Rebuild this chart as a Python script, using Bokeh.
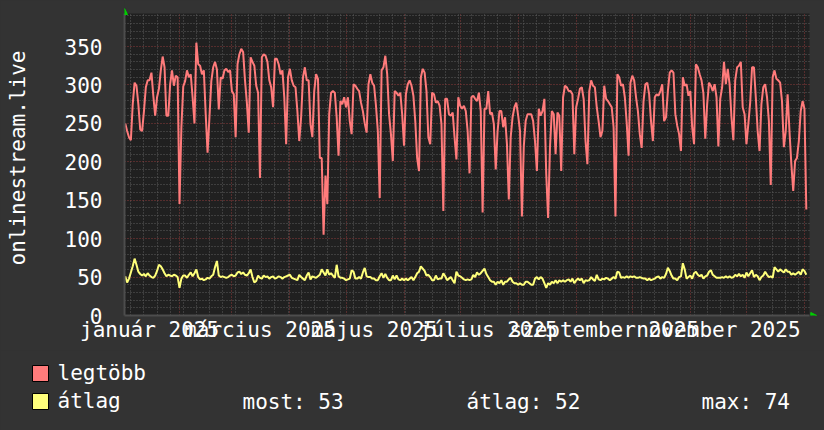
from bokeh.plotting import figure
from bokeh.models import (Range1d, FixedTicker, Label, Legend, LegendItem, Arrow, NormalHead,
                          ColumnDataSource, BoxAnnotation)
from bokeh.embed import file_html
from bokeh.resources import INLINE

FONT = "DejaVu Sans Mono"
TXT = "#ffffff"
BG = "#333333"
NAN = float("nan")

# ---------------- data (day index: 0 = 2025-01-01) ----------------
y_title = "onlinestream.live"
month_labels = ["január 2025", "március 2025", "május 2025", "július 2025",
                "szeptember 2025", "november 2025"]
label_days = [15, 74, 135, 196, 258, 319]          # labels sit mid-month
month_starts = [0, 31, 59, 90, 120, 151, 181, 212, 243, 273, 304, 334, 365]
week_starts = [d for d in range(5, 367, 7) if d not in month_starts]   # Mondays
y_ticks = [0, 50, 100, 150, 200, 250, 300, 350]
y_minor = [v for v in range(10, 400, 10) if v % 50]
first_day = 2
x_lo, x_hi = 1.6, 367.7        # shown period (days)
y_lo, y_hi = 0, 393            # shown value range

legtobb = [
    250, 240, 232, 228, 275, 303, 299, 275, 242, 240, 266, 297, 306, 306, 316, 286, 260, 284, 295, 319,
    337, 323, 260, 260, 301, 319, 299, 312, 310, 145, 245, 298, 305, 319, 310, 314, 284, 250, 355, 327,
    325, 314, 319, 262, 212, 258, 305, 323, 330, 320, 268, 310, 308, 319, 321, 317, 319, 292, 288, 232,
    327, 340,
    347, 343, 306, 277, 238, 336, 330, 325, 299, 290, 179, 336, 340, 338, 330, 306, 297, 271, 334, 334,
    327, 314, 319, 284, 223, 310, 321, 306, 299, 297, 266, 227, 258, 310, 323, 306, 306, 249, 232, 292,
    314, 308, 205, 205, 105, 182, 145, 262, 290, 292, 290, 258, 208, 279, 275, 284, 271, 284, 253, 236,
    301,
    299, 295, 292, 277, 266, 250, 238, 301, 314, 303, 299, 273, 240, 153, 319, 323, 338, 314, 262, 236,
    201, 292, 290, 286, 290, 262, 221, 288, 301, 306, 299, 286, 253, 205, 188, 310, 321, 316, 292, 232,
    223, 290, 288, 277, 279, 273, 249, 136, 282, 282, 262, 260, 264, 232, 203, 284, 273, 269, 273, 266,
    240,
    185, 284, 286, 282, 279, 290, 266, 134, 269, 269, 292, 262, 264, 249, 190, 240, 266, 266, 245, 258,
    223, 151, 232, 258, 271, 277, 260, 240, 129, 220, 253, 262, 262, 262, 253, 227, 188, 269, 260, 266,
    282, 184, 127, 219, 266, 262, 210, 264, 260, 188, 284, 299, 297, 292, 292, 288, 210, 271, 282, 295,
    297,
    282, 227, 197, 292, 306, 299, 297, 271, 253, 232, 240, 299, 282, 279, 275, 271, 245, 129, 314, 310,
    299, 301, 284, 251, 208, 303, 312, 306, 284, 266, 236, 218, 279, 301, 303, 288, 253, 227, 284, 288,
    286, 292, 301, 253, 258, 292, 316, 319, 316, 262, 247, 236, 214, 310, 299, 301, 286, 292, 245, 223,
    327,
    323, 314, 306, 289, 230, 275, 303, 299, 292, 301, 284, 220, 282, 297, 330, 301, 321, 301, 258, 228,
    306, 323, 325, 330, 271, 262, 223, 249, 277, 323, 323, 284, 240, 214, 275, 297, 301, 284, 253, 170,
    310, 319, 308, 306, 303, 279, 219, 240, 288, 240, 197, 162, 201, 205, 227, 266, 279, 269, 138,
]

atlag = [
    51, 43, 48, 56, 64, 74, 66, 57, 54, 52, 54, 51, 55, 52, 50, 49, 52, 58, 66, 64,
    60, 55, 51, 53, 52, 51, 53, 52, 50, 36, 48, 52, 52, 49, 53, 56, 51, 55, 60, 50,
    47, 48, 46, 47, 49, 48, 51, 53, 63, 71, 52, 50, 51, 50, 49, 50, 52, 53, 51, 52,
    56, 57,
    54, 56, 53, 52, 55, 60, 50, 43, 45, 52, 49, 48, 52, 50, 51, 48, 50, 51, 48, 49,
    51, 50, 48, 50, 51, 52, 53, 49, 48, 47, 46, 53, 50, 48, 46, 52, 56, 47, 51, 50,
    49, 51, 53, 60, 56, 52, 60, 53, 55, 52, 49, 66, 51, 49, 49, 48, 46, 47, 48, 59,
    57,
    48, 48, 50, 48, 56, 62, 51, 50, 50, 48, 48, 46, 46, 51, 55, 49, 54, 49, 46, 46,
    52, 47, 52, 47, 46, 48, 46, 48, 46, 48, 50, 46, 50, 55, 57, 64, 61, 58, 52, 53,
    50, 46, 46, 52, 47, 48, 48, 55, 51, 46, 48, 50, 46, 42, 57, 52, 51, 49, 47, 46,
    47,
    46, 47, 53, 50, 56, 53, 55, 58, 61, 54, 50, 46, 44, 44, 40, 44, 42, 46, 40, 44,
    44, 47, 49, 44, 42, 42, 40, 42, 40, 40, 44, 44, 42, 40, 40, 48, 50, 47, 50, 48,
    42, 36, 42, 40, 44, 42, 46, 42, 46, 44, 46, 44, 46, 47, 44, 48, 42, 46, 48, 46,
    48,
    42, 46, 45, 46, 50, 47, 45, 53, 47, 46, 48, 47, 49, 48, 46, 48, 50, 48, 57, 56,
    49, 50, 49, 51, 49, 51, 50, 51, 49, 49, 50, 49, 48, 48, 46, 48, 46, 47, 48, 50,
    51, 48, 50, 49, 54, 62, 58, 52, 48, 48, 46, 50, 51, 68, 60, 48, 50, 52, 48, 55,
    57,
    53, 51, 53, 48, 51, 52, 57, 59, 53, 51, 49, 49, 49, 50, 49, 51, 49, 51, 49, 50,
    53, 51, 54, 51, 53, 49, 56, 51, 55, 59, 50, 53, 51, 46, 50, 52, 57, 53, 50, 51,
    49, 63, 60, 57, 60, 58, 56, 60, 57, 57, 53, 55, 53, 55, 57, 53, 60, 58, 53,
]

series_names = ["legtöbb", "átlag"]
series_colors = ["#ff7b7b", "#ffff7b"]
stats_texts = ["most: 53", "átlag: 52", "max: 74"]

days = [first_day + i for i in range(len(legtobb))]
src = ColumnDataSource(dict(day=days, legtobb=legtobb, atlag=atlag))

# ---------------- main chart ----------------
W = 824
H1, H2 = 350, 80
FL, FR, FT, FB = 124, 809, 13, 315           # plot area on the page
kx = (FR - FL) / (x_hi - x_lo)
ky = (FB - FT) / (y_hi - y_lo)
x_end = x_lo + (W - FL) / kx                  # frame reaches the right edge
y_end = y_lo + FB / ky                        # frame reaches the top edge

p = figure(width=W, height=H1, output_backend="svg", toolbar_location=None,
           x_range=Range1d(x_lo, x_end), y_range=Range1d(y_lo, y_end),
           min_border_left=FL, min_border_right=0, min_border_top=0, min_border_bottom=H1 - FB,
           background_fill_color=BG, border_fill_color=BG, outline_line_color=None)

# dark plot area
p.add_layout(BoxAnnotation(left=x_lo, right=x_hi, bottom=y_lo, top=y_hi,
                           fill_color="#202020", fill_alpha=1, line_color=None, level="image"))

# grids
p.xgrid.ticker = FixedTicker(ticks=month_starts, minor_ticks=week_starts)
p.yaxis.ticker = FixedTicker(ticks=y_ticks, minor_ticks=y_minor)
for g in (p.xgrid[0], p.ygrid[0]):
    g.grid_line_color = "#8c3b3b"
    g.grid_line_dash = "1 2"
    g.minor_grid_line_color = "#5c5c5c"
    g.minor_grid_line_dash = "1 2"
p.xgrid.bounds = (x_lo, x_hi)
p.ygrid.bounds = (y_lo, y_hi)
p.xgrid.cross_bounds = (y_lo, y_hi)
p.ygrid.cross_bounds = (x_lo, x_hi)

# axes
p.xaxis.ticker = FixedTicker(ticks=label_days)
p.xaxis.major_label_overrides = {d: t for d, t in zip(label_days, month_labels)}
for ax in (p.xaxis[0], p.yaxis[0]):
    ax.major_label_text_font = FONT
    ax.major_label_text_font_size = "21px"
    ax.major_label_text_color = TXT
    ax.major_tick_line_color = None
    ax.minor_tick_line_color = None
    ax.axis_line_color = "#4d4d4d"
    ax.axis_line_width = 2
p.xaxis.bounds = (x_lo, x_hi)
p.yaxis.bounds = (y_lo, y_hi)
p.xaxis.major_label_standoff = -4
p.yaxis.major_label_standoff = 16
p.yaxis.axis_label = y_title
p.yaxis.axis_label_text_font = FONT
p.yaxis.axis_label_text_font_size = "21px"
p.yaxis.axis_label_text_font_style = "normal"
p.yaxis.axis_label_text_color = TXT
p.yaxis.axis_label_standoff = 32

# series
p.line("day", "legtobb", source=src, line_color=series_colors[0], line_width=2)
p.line("day", "atlag", source=src, line_color=series_colors[1], line_width=2)

# axis arrows
green = "#00d000"
p.add_layout(Arrow(x_start=x_lo, y_start=y_hi - 6, x_end=x_lo, y_end=y_hi + 6.5, line_alpha=0,
                   end=NormalHead(size=6, fill_color=green, line_color=green)))
p.add_layout(Arrow(x_start=x_hi - 4, y_start=y_lo, x_end=x_hi + 3.9, y_end=y_lo, line_alpha=0,
                   end=NormalHead(size=6, fill_color=green, line_color=green)))

# ---------------- legend strip (separate root, stacked under the chart) ----------------
q = figure(width=W, height=H2, output_backend="svg", toolbar_location=None,
           x_range=Range1d(0, 1), y_range=Range1d(0, 1),
           x_axis_location=None, y_axis_location=None,
           min_border=0, min_border_left=0, min_border_right=0, min_border_top=0, min_border_bottom=0,
           background_fill_color=BG, border_fill_color=BG, outline_line_color=None)
q.xgrid.visible = False
q.ygrid.visible = False
# swatch proxies: not drawn themselves (NaN), only used for their legend glyph
sq1 = q.quad(left=[NAN], right=[NAN], top=[NAN], bottom=[NAN],
             fill_color=series_colors[0], line_color="#000000", line_width=1)
sq2 = q.quad(left=[NAN], right=[NAN], top=[NAN], bottom=[NAN],
             fill_color=series_colors[1], line_color="#000000", line_width=1)
legend = Legend(items=[LegendItem(label=series_names[0], renderers=[sq1]),
                       LegendItem(label=series_names[1], renderers=[sq2])],
                location=(29.5, 15.5), orientation="vertical",
                glyph_width=20, glyph_height=20, label_standoff=8, spacing=0,
                padding=0, margin=0, label_height=28,
                label_text_font=FONT, label_text_font_size="21px", label_text_color=TXT,
                background_fill_alpha=0, border_line_alpha=0)
q.add_layout(legend, "center")

for xs, t in zip([242, 466, 701], stats_texts):
    q.add_layout(Label(x=xs, y=29, x_units="screen", y_units="screen", text=t,
                       text_font=FONT, text_font_size="21px", text_color=TXT,
                       text_baseline="alphabetic", text_align="left"))

html = file_html([p, q], INLINE, title="onlinestream.live")
html = html.replace("</head>",
                    "<style>html,body{margin:0;padding:0;background:#333333;overflow:hidden;"
                    "line-height:0;}</style></head>", 1)
open("out.html", "w").write(html)
